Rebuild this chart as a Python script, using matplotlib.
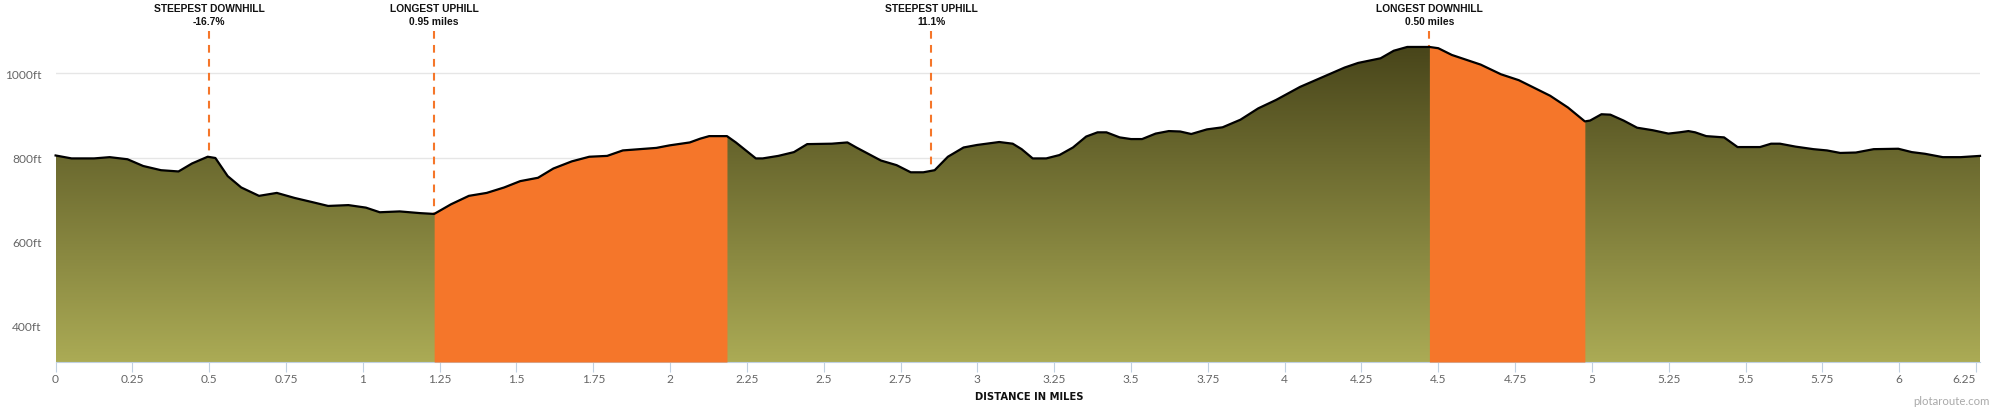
"""Elevation profile with longest climb and descent highlighted."""

import matplotlib

matplotlib.use("Agg")
import matplotlib.pyplot as plt
import numpy as np
from matplotlib.colors import LinearSegmentedColormap
from matplotlib.patches import PathPatch
from matplotlib.path import Path

miles = [
    0, 0.052, 0.125, 0.176, 0.234, 0.285, 0.343, 0.40, 0.444, 0.495, 0.52, 0.56,
    0.604, 0.662, 0.72, 0.778, 0.836, 0.887, 0.953, 1.01, 1.055, 1.12, 1.185, 1.232,
    1.287, 1.345, 1.403, 1.46, 1.512, 1.57, 1.62, 1.68, 1.737, 1.795, 1.846, 1.955,
    1.998, 2.064, 2.098, 2.127, 2.185, 2.214, 2.279, 2.301, 2.352, 2.403, 2.446, 2.526,
    2.577, 2.606, 2.686, 2.737, 2.783, 2.824, 2.861, 2.904, 2.955, 2.999, 3.071, 3.115,
    3.144, 3.18, 3.224, 3.267, 3.311, 3.354, 3.391, 3.42, 3.463, 3.5, 3.536, 3.58,
    3.623, 3.66, 3.696, 3.747, 3.798, 3.856, 3.914, 3.972, 4.05, 4.195, 4.239, 4.312,
    4.355, 4.399, 4.471, 4.5, 4.544, 4.638, 4.704, 4.762, 4.864, 4.922, 4.977, 4.994,
    5.031, 5.06, 5.103, 5.147, 5.198, 5.249, 5.285, 5.314, 5.336, 5.372, 5.43, 5.474,
    5.547, 5.583, 5.612, 5.663, 5.721, 5.765, 5.808, 5.859, 5.917, 5.997, 6.041, 6.084,
    6.142, 6.2, 6.263,
]
elevation_ft = [
    805, 798, 798, 801, 796, 780, 770, 767, 786, 802, 799, 756,
    729, 709, 716, 704, 694, 685, 687, 681, 670, 672, 668, 666,
    689, 709, 716, 729, 744, 752, 774, 791, 802, 804, 817, 823,
    829, 836, 845, 851, 851, 836, 798, 798, 804, 813, 832, 833,
    836, 824, 793, 782, 765, 765, 770, 802, 824, 830, 837, 833,
    820, 798, 798, 806, 824, 850, 860, 860, 848, 844, 844, 857,
    863, 862, 856, 867, 872, 890, 917, 937, 968, 1014, 1025, 1036,
    1054, 1063, 1063, 1060, 1044, 1021, 998, 984, 947, 919, 886, 888,
    903, 902, 888, 871, 865, 857, 860, 863, 860, 851, 848, 825,
    825, 833, 833, 826, 820, 817, 811, 812, 820, 821, 813, 809,
    801, 801, 804,
]

# longest uphill and longest downhill
highlight_spans = [(1.232, 2.185), (4.471, 4.977)]

callout_miles = [0.5, 1.232, 2.85, 4.471]
callout_titles = ["STEEPEST DOWNHILL", "LONGEST UPHILL", "STEEPEST UPHILL", "LONGEST DOWNHILL"]
callout_values = ["-16.7%", "0.95 miles", "11.1%", "0.50 miles"]
callout_top_ft = 1100

x_ticks = [0, 0.25, 0.5, 0.75, 1, 1.25, 1.5, 1.75, 2, 2.25, 2.5, 2.75, 3,
           3.25, 3.5, 3.75, 4, 4.25, 4.5, 4.75, 5, 5.25, 5.5, 5.75, 6, 6.25]
x_tick_labels = ["0", "0.25", "0.5", "0.75", "1", "1.25", "1.5", "1.75", "2",
                 "2.25", "2.5", "2.75", "3", "3.25", "3.5", "3.75", "4", "4.25",
                 "4.5", "4.75", "5", "5.25", "5.5", "5.75", "6", "6.25"]
y_ticks = [400, 600, 800, 1000]
y_tick_labels = ["400ft", "600ft", "800ft", "1000ft"]

X_LIM = (0, 6.263)
Y_LIM = (314, 1177)
ORANGE = "#f5762a"
TICK_BLUE = "#c0d0e0"

plt.rcParams["font.family"] = ["Liberation Sans", "DejaVu Sans"]

miles = np.array(miles)
elevation_ft = np.array(elevation_ft)

fig = plt.figure(figsize=(20, 4.1), dpi=100)
ax = fig.add_axes([55.6 / 2000, 47 / 410, (1980 - 55.6) / 2000, 363 / 410])

# vertical gradient, clipped to the area under the profile
gradient_cmap = LinearSegmentedColormap.from_list("terrain", ["#48451a", "#abab55"])
gradient = np.linspace(0, 1, 256).reshape(-1, 1)
image = ax.imshow(gradient, cmap=gradient_cmap, aspect="auto", zorder=2,
                  extent=(X_LIM[0], X_LIM[1], Y_LIM[0], elevation_ft.max()))
outline = np.column_stack([
    np.concatenate([[miles[0]], miles, [miles[-1]]]),
    np.concatenate([[Y_LIM[0]], elevation_ft, [Y_LIM[0]]]),
])
clip = PathPatch(Path(outline), transform=ax.transData, facecolor="none", edgecolor="none")
ax.add_patch(clip)
image.set_clip_path(clip)

for start, end in highlight_spans:
    ax.fill_between(miles, elevation_ft, Y_LIM[0], where=(miles >= start) & (miles <= end),
                    color=ORANGE, linewidth=0, zorder=3)
ax.plot(miles, elevation_ft, color="black", linewidth=1.6, zorder=4,
        solid_joinstyle="round", clip_on=False)

for x, title, value in zip(callout_miles, callout_titles, callout_values):
    ax.plot([x, x], [callout_top_ft, np.interp(x, miles, elevation_ft)], color=ORANGE,
            linewidth=1.5, linestyle=(0, (3.7, 3.0)), dash_capstyle="butt", zorder=1)
    ax.text(x, 1155, title, ha="center", va="center", fontsize=7.4, fontweight="bold",
            color="#111111")
    ax.text(x, 1124, value, ha="center", va="center", fontsize=7.4, fontweight="bold",
            color="#111111")

ax.set_xlim(*X_LIM)
ax.set_ylim(*Y_LIM)
for name, spine in ax.spines.items():
    spine.set_visible(name == "bottom")
ax.spines["bottom"].set_color(TICK_BLUE)
ax.spines["bottom"].set_linewidth(0.8)
ax.grid(axis="y", color="#e6e6e6", linewidth=1.0, zorder=0)
ax.set_axisbelow(True)

ax.set_xticks(x_ticks, x_tick_labels)
ax.set_yticks(y_ticks, y_tick_labels)
ax.tick_params(axis="x", length=7, width=0.8, color=TICK_BLUE, pad=1, labelsize=8.6,
               labelcolor="#666666")
ax.tick_params(axis="y", length=0, pad=10, labelsize=8.6, labelcolor="#666666")
for label in ax.get_xticklabels() + ax.get_yticklabels():
    label.set_fontfamily(["Lato", "DejaVu Sans"])
ax.get_xticklabels()[-1].set_horizontalalignment("right")

fig.text(1029 / 2000, 1 - 397 / 410, "DISTANCE IN MILES", ha="center", va="center",
         fontsize=7.2, fontweight="bold", color="#111111", family=["DejaVu Sans"])
fig.text(1990 / 2000, 1 - 402 / 410, "plotaroute.com", ha="right", va="center",
         fontsize=8.2, color="#aaaaaa", family=["Lato", "DejaVu Sans"])

fig.savefig("out.png", dpi=100, facecolor="white")
plt.close(fig)
